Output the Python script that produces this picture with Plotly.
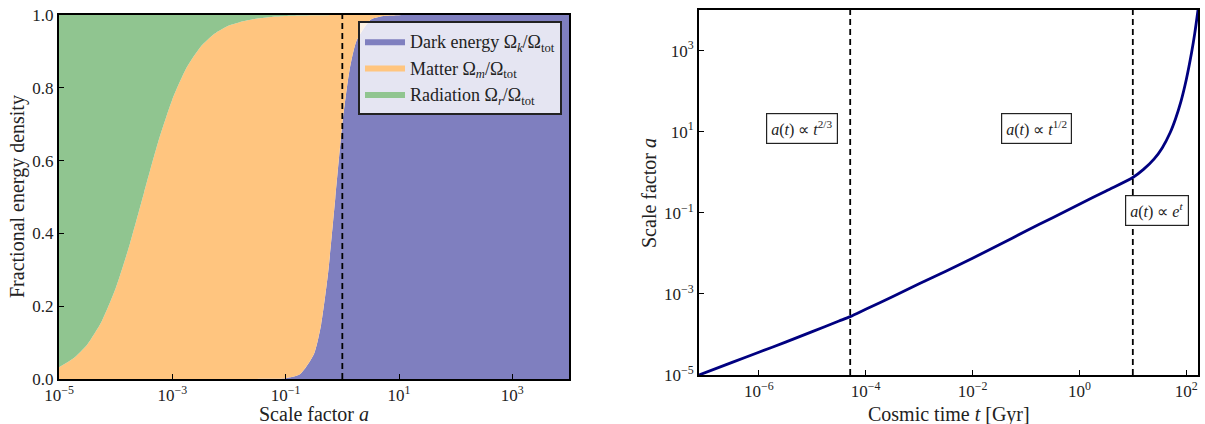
import plotly.graph_objects as go

# ---------------- Left panel data ----------------
log10_a = [-5.0, -4.75, -4.5, -4.25, -4.0, -3.75, -3.5, -3.25, -3.0, -2.75, -2.5, -2.25,
           -2.0, -1.75, -1.5, -1.25, -1.0, -0.75, -0.5, -0.375, -0.25, -0.125, 0.0, 0.125,
           0.25, 0.5, 0.75, 1.0, 1.5, 2.0, 3.0, 4.0]
frac_dark_energy = [0, 0, 0, 0, 0, 0, 0, 0, 0, 0, 0, 0,
                    0, 0, 0.0001, 0.0004, 0.0023, 0.013, 0.069, 0.149, 0.293, 0.496, 0.700, 0.847,
                    0.929, 0.987, 0.9976, 0.9996, 1, 1, 1, 1]
frac_matter = [0.032, 0.056, 0.095, 0.157, 0.249, 0.371, 0.512, 0.651, 0.768, 0.855, 0.913, 0.949,
               0.971, 0.983, 0.9904, 0.9943, 0.9947, 0.9853, 0.9301, 0.8504, 0.7066, 0.5037, 0.2998, 0.1529,
               0.071, 0.013, 0.0024, 0.0004, 0, 0, 0, 0]
frac_radiation = [0.968, 0.944, 0.905, 0.843, 0.751, 0.629, 0.488, 0.349, 0.232, 0.145, 0.087, 0.051,
                  0.029, 0.017, 0.0095, 0.0053, 0.003, 0.0017, 0.0009, 0.0006, 0.0004, 0.0003, 0.0002, 0.0001,
                  0, 0, 0, 0, 0, 0, 0, 0]
a_today = 1.0

# ---------------- Right panel data ----------------
log10_t_gyr = [-7.12, -6.5, -6.0, -5.5, -5.0, -4.5, -4.29, -4.0, -3.5, -3.0, -2.5, -2.0, -1.5,
               -1.0, -0.5, 0.0, 0.5, 1.0, 1.2, 1.4, 1.55, 1.7, 1.8, 1.9, 2.0, 2.1, 2.16, 2.22]
log10_a_of_t = [-5.0, -4.69, -4.44, -4.19, -3.93, -3.67, -3.56, -3.38, -3.07, -2.75, -2.44, -2.12, -1.79,
                -1.45, -1.12, -0.79, -0.46, -0.13, 0.07, 0.33, 0.60, 0.98, 1.32, 1.74, 2.28, 2.95, 3.43, 4.0]
t_equality_gyr = 10 ** -4.29
t_lambda_gyr = 10.0

left_xticks = [1e-5, 1e-3, 1e-1, 1e1, 1e3]
left_xticktext = ["10<sup>−5</sup>", "10<sup>−3</sup>", "10<sup>−1</sup>", "10<sup>1</sup>", "10<sup>3</sup>"]
left_yticks = [0.0, 0.2, 0.4, 0.6, 0.8, 1.0]
right_xticks = [1e-6, 1e-4, 1e-2, 1e0, 1e2]
right_xticktext = ["10<sup>−6</sup>", "10<sup>−4</sup>", "10<sup>−2</sup>", "10<sup>0</sup>", "10<sup>2</sup>"]
right_yticks = [1e-5, 1e-3, 1e-1, 1e1, 1e3]
right_yticktext = ["10<sup>−5</sup>", "10<sup>−3</sup>", "10<sup>−1</sup>", "10<sup>1</sup>", "10<sup>3</sup>"]

FONT = "Liberation Serif"
W, H = 1205, 424

a_vals = [10 ** v for v in log10_a]
t_vals = [10 ** v for v in log10_t_gyr]
a_curve = [10 ** v for v in log10_a_of_t]

fig = go.Figure()

area_specs = [
    ("Dark energy Ω<sub><i>k</i></sub>/Ω<sub>tot</sub>", frac_dark_energy, "rgb(127,127,191)"),
    ("Matter Ω<sub><i>m</i></sub>/Ω<sub>tot</sub>", frac_matter, "rgb(255,197,127)"),
    ("Radiation Ω<sub><i>r</i></sub>/Ω<sub>tot</sub>", frac_radiation, "rgb(144,197,144)"),
]
for name, vals, col in area_specs:
    fig.add_trace(go.Scatter(
        x=a_vals, y=vals, name=name, mode="lines", stackgroup="one",
        line=dict(width=0, shape="spline", smoothing=0.6, color=col),
        fillcolor=col, xaxis="x", yaxis="y", hoverinfo="skip"))

fig.add_trace(go.Scatter(x=[a_today, a_today], y=[0, 1], mode="lines",
                         line=dict(color="black", width=1.8, dash="6px,4px"),
                         showlegend=False, xaxis="x", yaxis="y", hoverinfo="skip"))

fig.add_trace(go.Scatter(x=t_vals, y=a_curve, mode="lines",
                         line=dict(color="#000080", width=2.8, shape="spline", smoothing=0.8),
                         showlegend=False, xaxis="x2", yaxis="y2", hoverinfo="skip"))
for tv in (t_equality_gyr, t_lambda_gyr):
    fig.add_trace(go.Scatter(x=[tv, tv], y=[a_curve[0], a_curve[-1]], mode="lines",
                             line=dict(color="black", width=1.8, dash="6px,4px"),
                             showlegend=False, xaxis="x2", yaxis="y2", hoverinfo="skip"))

# domains in pixels
Lx0, Lx1, Ly0, Ly1 = 59, 569, 15, 379
Rx0, Rx1, Ry0, Ry1 = 699, 1198, 10, 375

axis_common = dict(showline=True, linecolor="black", linewidth=2, mirror=True,
                   ticks="inside", ticklen=5, tickwidth=1.3, tickcolor="black",
                   showgrid=False, zeroline=False, automargin=False,
                   tickfont=dict(family=FONT, size=17, color="#222"))

fig.update_layout(
    width=W, height=H, margin=dict(l=0, r=0, t=0, b=0, autoexpand=False),
    paper_bgcolor="white", plot_bgcolor="white",
    font=dict(family=FONT, size=17, color="#222"),
    xaxis=dict(domain=[Lx0 / W, Lx1 / W], type="log", range=[log10_a[0], log10_a[-1]],
               tickvals=left_xticks, ticktext=left_xticktext, anchor="y", **axis_common),
    yaxis=dict(domain=[1 - Ly1 / H, 1 - Ly0 / H], range=[0, 1], tickvals=left_yticks,
               tickformat=".1f", anchor="x", **axis_common),
    xaxis2=dict(domain=[Rx0 / W, Rx1 / W], type="log",
                range=[log10_t_gyr[0], log10_t_gyr[-1]],
                tickvals=right_xticks, ticktext=right_xticktext, anchor="y2", **axis_common),
    yaxis2=dict(domain=[1 - Ry1 / H, 1 - Ry0 / H], type="log",
                range=[log10_a_of_t[0], log10_a_of_t[-1]],
                tickvals=right_yticks, ticktext=right_yticktext, anchor="x2", **axis_common),
    legend=dict(x=562 / W, y=1 - 21 / H, xanchor="right", yanchor="top",
                bgcolor="rgba(255,255,255,0.8)", bordercolor="#222", borderwidth=2,
                traceorder="normal", font=dict(family=FONT, size=18, color="#222"),
                itemwidth=40, tracegroupgap=2),
)

ann = []
title_font = dict(family=FONT, size=20, color="#222")
ann.append(dict(text="Scale factor <i>a</i>", x=(Lx0 + Lx1) / 2 / W, y=1 - 414 / H,
                xanchor="center", yanchor="middle",
                xref="paper", yref="paper", showarrow=False, font=title_font))
ann.append(dict(text="Fractional energy density", x=18 / W, y=1 - 197 / H, textangle=-90,
                xanchor="center", yanchor="middle",
                xref="paper", yref="paper", showarrow=False, font=title_font))
ann.append(dict(text="Cosmic time <i>t</i> [Gyr]", x=(Rx0 + Rx1) / 2 / W, y=1 - 414 / H,
                xanchor="center", yanchor="middle",
                xref="paper", yref="paper", showarrow=False, font=title_font))
ann.append(dict(text="Scale factor <i>a</i>", x=649 / W, y=1 - 193 / H, textangle=-90,
                xanchor="center", yanchor="middle",
                xref="paper", yref="paper", showarrow=False, font=title_font))
box = dict(xref="x2", yref="y2", showarrow=False, bgcolor="white", bordercolor="#222",
           borderwidth=1.2, borderpad=4, font=dict(family=FONT, size=16, color="#222"))
ann.append(dict(text="<i>a</i>(<i>t</i>) ∝ <i>t</i><sup>2/3</sup>", x=-5.19, y=1.08, **box))
ann.append(dict(text="<i>a</i>(<i>t</i>) ∝ <i>t</i><sup>1/2</sup>", x=-0.80, y=1.08, **box))
ann.append(dict(text="<i>a</i>(<i>t</i>) ∝ <i>e</i><sup><i>t</i></sup>", x=1.45, y=-0.94, **box))
fig.update_layout(annotations=ann)

fig.write_html("out.html", config={"displayModeBar": False})
